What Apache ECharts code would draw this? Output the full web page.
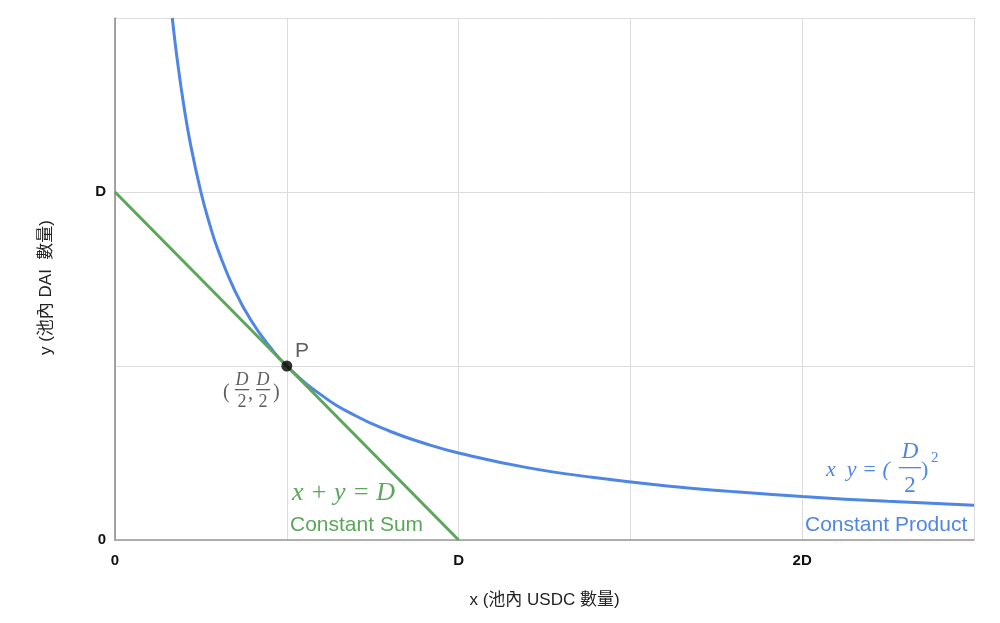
<!DOCTYPE html>
<html><head><meta charset="utf-8">
<script src="https://cdn.jsdelivr.net/npm/echarts@6/dist/echarts.min.js"></script>
<style>html,body{margin:0;padding:0;background:#fff}#c{width:1000px;height:623px}</style>
</head><body><div id="c"></div>
<script>
// Values in units of D
const productX = [0.1667, 0.18, 0.2, 0.22, 0.25, 0.275, 0.3, 0.35, 0.4, 0.45, 0.5, 0.6, 0.7, 0.8, 0.9, 1.0, 1.2, 1.4, 1.6, 1.8, 2.0, 2.25, 2.5];
const productY = [1.5, 1.389, 1.25, 1.136, 1.0, 0.909, 0.833, 0.714, 0.625, 0.556, 0.5, 0.417, 0.357, 0.3125, 0.278, 0.25, 0.208, 0.179, 0.156, 0.139, 0.125, 0.111, 0.1];
const sumX = [0, 1];
const sumY = [1, 0];
const pointP = [0.5, 0.5];
const xTickLabels = {0: '0', 1: 'D', 2: '2D'};
const yTickLabels = {0: '0', 1: 'D'};
const xName = 'x (池內 USDC 數量)';
const yName = 'y (池內 DAI  數量)';

const BLUE = '#4f86e6', GREEN = '#5ba65b', GRAY = '#5f5f5f';
const SANS = '"Liberation Sans","Noto Sans CJK TC",Arial,sans-serif';
const SERIF = '"Liberation Serif","DejaVu Serif",serif';

const chart = echarts.init(document.getElementById('c'), null, {renderer: 'canvas'});
const fmt = m => v => { const k = Math.round(v * 2) / 2; return m[k] !== undefined ? m[k] : ''; };

function txt(x, y, text, font, fill, align) {
  return {type: 'text', x: x, y: y, style: {text: text, font: font, fill: fill, textAlign: align || 'left', textVerticalAlign: 'middle'}};
}
function frac(cx, yD, yBar, y2, halfW, color, size) {
  return [
    txt(cx, yD, 'D', 'italic ' + size + 'px ' + SERIF, color, 'center'),
    {type: 'rect', shape: {x: cx - halfW, y: yBar, width: halfW * 2, height: 1.3}, style: {fill: color}},
    txt(cx, y2, '2', size + 'px ' + SERIF, color, 'center')
  ];
}

chart.setOption({
  animation: false,
  grid: {left: 115, right: 26, top: 18, bottom: 83},
  xAxis: {
    type: 'value', min: 0, max: 2.5, interval: 0.5,
    name: xName, nameLocation: 'middle', nameGap: 52,
    nameTextStyle: {fontSize: 17, color: '#222', fontFamily: SANS},
    axisLine: {lineStyle: {color: '#999', width: 1.5}},
    axisTick: {show: false},
    splitLine: {lineStyle: {color: '#dcdcdc', width: 1}},
    axisLabel: {formatter: fmt(xTickLabels), color: '#111', fontWeight: 'bold', fontSize: 15, fontFamily: SANS, margin: 13}
  },
  yAxis: {
    type: 'value', min: 0, max: 1.5, interval: 0.5,
    name: yName, nameLocation: 'middle', nameGap: 60,
    nameTextStyle: {fontSize: 17, color: '#222', fontFamily: SANS, padding: [0, 17, 0, 0]},
    axisLine: {show: true, lineStyle: {color: '#888', width: 1.5}},
    axisTick: {show: false},
    splitLine: {lineStyle: {color: '#dcdcdc', width: 1}},
    axisLabel: {formatter: fmt(yTickLabels), color: '#111', fontWeight: 'bold', fontSize: 15, fontFamily: SANS, margin: 9}
  },
  series: [
    {type: 'line', data: productX.map((x, i) => [x, productY[i]]), smooth: 0.5, showSymbol: false,
     lineStyle: {color: BLUE, width: 3}, z: 2},
    {type: 'line', data: sumX.map((x, i) => [x, sumY[i]]), showSymbol: false,
     lineStyle: {color: GREEN, width: 3}, z: 3},
    {type: 'scatter', data: [pointP], symbolSize: 11, itemStyle: {color: '#000'}, z: 5}
  ],
  graphic: [
    txt(295, 351, 'P', '21px ' + SANS, GRAY),
    txt(223, 393, '(', '20px ' + SERIF, GRAY),
    ...frac(242, 380, 389, 402, 7, GRAY, 18),
    txt(248, 394, ',', '20px ' + SERIF, GRAY),
    ...frac(263, 380, 389, 402, 7, GRAY, 18),
    txt(273, 393, ')', '20px ' + SERIF, GRAY),

    txt(292, 493, 'x + y = D', 'italic 26px ' + SERIF, GREEN),
    txt(290, 525, 'Constant Sum', '21px ' + SANS, GREEN),

    txt(826, 470, 'x  y = (', 'italic 22px ' + SERIF, BLUE),
    ...frac(910, 452, 467, 486, 11, BLUE, 23),
    txt(921, 470, ')', '22px ' + SERIF, BLUE),
    txt(931, 458, '2', '15px ' + SERIF, BLUE),
    txt(805, 525, 'Constant Product', '21px ' + SANS, BLUE)
  ]
});
</script></body></html>
